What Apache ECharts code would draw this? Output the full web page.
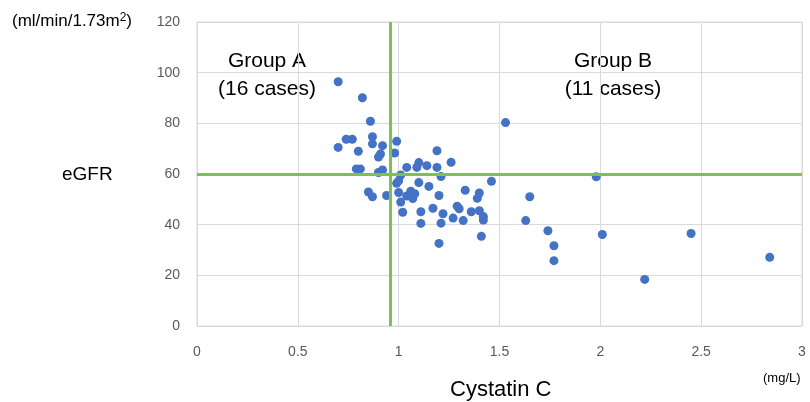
<!DOCTYPE html>
<html>
<head>
<meta charset="utf-8">
<script src="https://cdn.jsdelivr.net/npm/echarts@6/dist/echarts.min.js"></script>
<style>
  html, body { margin: 0; padding: 0; background: #fff; }
  #chart { width: 810px; height: 402px; }
</style>
</head>
<body>
<div id="chart"></div>
<script>
  // cystatin C (mg/L) vs eGFR
  var cystatin = [
    0.70, 0.82, 0.86, 0.87, 0.74, 0.77, 0.87, 0.92, 0.70, 0.80, 0.91, 0.90,
    0.99, 0.98, 1.19, 0.79, 0.81, 0.90, 0.92, 1.04, 1.09, 1.10, 1.14, 1.19,
    1.26, 1.53, 1.01, 1.00, 0.99, 1.10, 1.15, 1.21, 1.46, 0.85, 0.87, 0.94,
    1.00, 1.04, 1.06, 1.08, 1.07, 1.01, 1.20, 1.33, 1.40, 1.39, 1.65, 1.02,
    1.11, 1.17, 1.22, 1.29, 1.30, 1.27, 1.32, 1.36, 1.40, 1.42, 1.42, 1.11,
    1.21, 1.63, 1.41, 1.20, 1.98, 1.74, 1.77, 1.77, 2.01, 2.45, 2.84, 2.22
  ];
  var egfr = [
    96.4, 90.1, 80.8, 74.7, 73.7, 73.7, 71.9, 71.2, 70.5, 69.0, 67.9, 66.7,
    72.9, 68.3, 69.2, 62.0, 62.0, 60.6, 61.6, 62.6, 62.6, 64.5, 63.3, 62.6,
    64.6, 80.3, 59.6, 57.3, 56.3, 56.6, 55.1, 59.0, 57.1, 52.9, 51.0, 51.5,
    52.7, 51.3, 53.2, 52.2, 50.3, 48.9, 51.5, 53.6, 52.5, 50.4, 51.0, 44.9,
    45.1, 46.5, 44.3, 47.3, 46.3, 42.6, 41.6, 45.1, 45.5, 43.2, 41.8, 40.5,
    40.6, 41.6, 35.4, 32.6, 58.9, 37.6, 31.7, 25.8, 36.1, 36.5, 27.1, 18.4
  ];
  var xTicks = [0, 0.5, 1, 1.5, 2, 2.5, 3];
  var yTicks = [0, 20, 40, 60, 80, 100, 120];
  var cutoffX = 0.96;
  var cutoffY = 60;
  var groupLabels = ['Group A\n(16 cases)', 'Group B\n(11 cases)'];

  var points = [];
  for (var i = 0; i < cystatin.length; i++) {
    points.push([cystatin[i], egfr[i]]);
  }

  var myChart = echarts.init(document.getElementById('chart'));
  var font = '"Liberation Sans", Arial, sans-serif';

  myChart.setOption({
    animation: false,
    textStyle: { fontFamily: font },
    grid: {
      left: 197,
      right: 8,
      top: 22,
      bottom: 76,
      show: true,
      borderColor: '#d9d9e0',
      borderWidth: 1
    },
    xAxis: {
      type: 'value',
      min: xTicks[0],
      max: xTicks[xTicks.length - 1],
      interval: 0.5,
      axisLine: { show: true, lineStyle: { color: '#d9d9e0' } },
      axisTick: { show: false },
      splitLine: { show: true, lineStyle: { color: '#d9d9e0' } },
      axisLabel: { color: '#595959', fontSize: 14, margin: 19, fontFamily: font }
    },
    yAxis: {
      type: 'value',
      min: yTicks[0],
      max: yTicks[yTicks.length - 1],
      interval: 20,
      axisLine: { show: true, lineStyle: { color: '#d9d9e0' } },
      axisTick: { show: false },
      splitLine: { show: true, lineStyle: { color: '#d9d9e0' } },
      axisLabel: { color: '#595959', fontSize: 14, margin: 17, fontFamily: font }
    },
    graphic: [
      {
        type: 'text', left: 12, top: 12,
        style: {
          text: '(ml/min/1.73m{sup|2})',
          fill: '#000',
          font: '17px ' + font,
          rich: { sup: { fontSize: 12, verticalAlign: 'top', padding: [0, 0, 6, 0], fill: '#000', fontFamily: font } }
        }
      },
      { type: 'text', left: 62, top: 165, style: { text: 'eGFR', fill: '#000', font: '19px ' + font } },
      { type: 'text', left: 450, top: 379, style: { text: 'Cystatin C', fill: '#000', font: '22px ' + font } },
      { type: 'text', left: 763, top: 372, style: { text: '(mg/L)', fill: '#000', font: '13px ' + font } },
      { type: 'text', x: 267, y: 47, style: { text: groupLabels[0], fill: '#000', font: '21px ' + font, align: 'center', verticalAlign: 'top', lineHeight: 28 } },
      { type: 'text', x: 613, y: 47, style: { text: groupLabels[1], fill: '#000', font: '21px ' + font, align: 'center', verticalAlign: 'top', lineHeight: 28 } }
    ],
    series: [
      {
        type: 'scatter',
        data: points,
        symbolSize: 9,
        itemStyle: { color: '#4472c4', opacity: 1 },
        z: 3,
        markLine: {
          silent: true,
          symbol: 'none',
          label: { show: false },
          lineStyle: { color: '#7cc152', width: 3, type: 'solid' },
          data: [
            { xAxis: cutoffX },
            { yAxis: cutoffY }
          ]
        }
      }
    ]
  });
</script>
</body>
</html>
